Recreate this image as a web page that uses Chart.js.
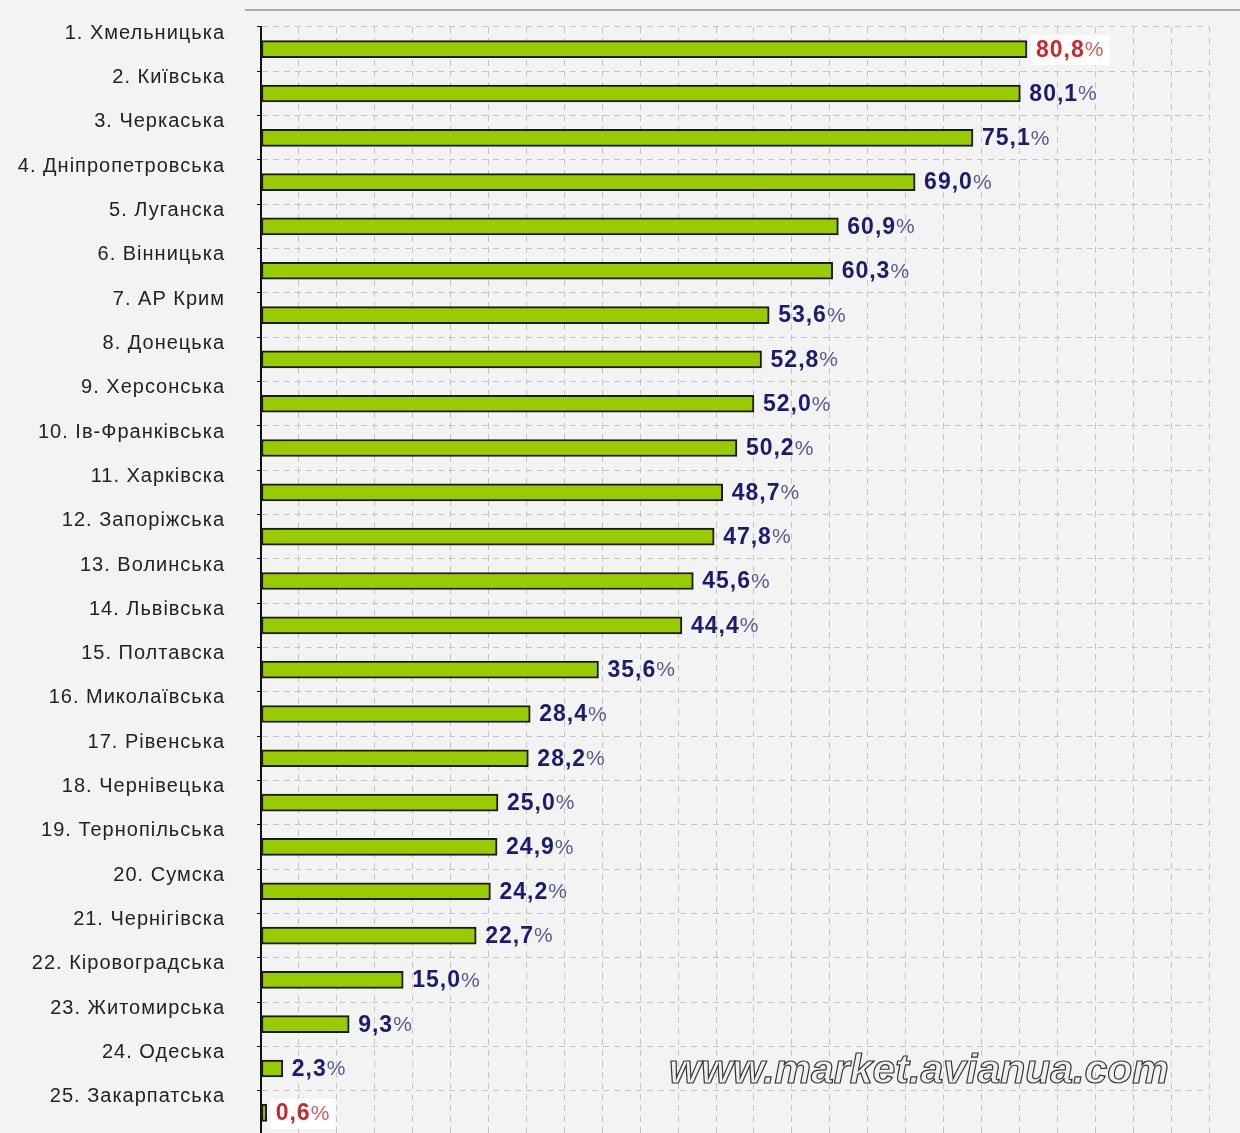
<!DOCTYPE html>
<html>
<head>
<meta charset="utf-8">
<script src="https://cdn.jsdelivr.net/npm/chart.js@4.4.1/dist/chart.umd.min.js"></script>
<style>
  html, body { margin: 0; padding: 0; background: #f3f3f3; overflow: hidden; }
  #wrap { width: 1240px; height: 1136px; }
</style>
</head>
<body>
<div id="wrap"><canvas id="myChart" width="1240" height="1136"></canvas></div>
<script>
const regions = [
  "1. Хмельницька", "2. Київська", "3. Черкаська", "4. Дніпропетровська",
  "5. Луганска", "6. Вінницька", "7. АР Крим", "8. Донецька",
  "9. Херсонська", "10. Ів-Франківська", "11. Харківска", "12. Запоріжська",
  "13. Волинська", "14. Львівська", "15. Полтавска", "16. Миколаївська",
  "17. Рівенська", "18. Чернівецька", "19. Тернопільська", "20. Сумска",
  "21. Чернігівска", "22. Кіровоградська", "23. Житомирська", "24. Одеська",
  "25. Закарпатська"
];
const shares = [
  80.8, 80.1, 75.1, 69.0, 60.9, 60.3, 53.6, 52.8, 52.0, 50.2,
  48.7, 47.8, 45.6, 44.4, 35.6, 28.4, 28.2, 25.0, 24.9, 24.2,
  22.7, 15.0, 9.3, 2.3, 0.6
];
const highlighted = [0, 24]; // first and last are shown in red
const watermark = "www.market.avianua.com";

// value labels + frame line + watermark
const decor = {
  id: "decor",
  beforeDraw(chart) {
    const ctx = chart.ctx;
    ctx.save();
    ctx.fillStyle = "#f3f3f3";
    ctx.fillRect(0, 0, chart.width, chart.height);
    ctx.strokeStyle = "#a8a8a8";
    ctx.lineWidth = 2;
    ctx.beginPath();
    ctx.moveTo(245, 10);
    ctx.lineTo(chart.width, 10);
    ctx.stroke();
    ctx.restore();
    ctx.letterSpacing = "1px"; // wide-ish tick labels like the original
  },
  afterDatasetsDraw(chart) {
    const ctx = chart.ctx;
    const meta = chart.getDatasetMeta(0);
    ctx.save();
    // watermark
    ctx.letterSpacing = "0px";
    ctx.font = "italic bold 40px 'Liberation Sans', Arial, sans-serif";
    const w = ctx.measureText(watermark).width;
    const size = 40 * 500 / w;
    ctx.font = "italic bold " + size.toFixed(1) + "px 'Liberation Sans', Arial, sans-serif";
    ctx.textBaseline = "middle";
    ctx.textAlign = "left";
    ctx.fillStyle = "#efefef";
    ctx.strokeStyle = "#333";
    ctx.lineWidth = 1.2;
    ctx.fillText(watermark, 669, 1072);
    ctx.strokeText(watermark, 669, 1072);

    meta.data.forEach((bar, i) => {
      const num = shares[i].toFixed(1).replace(".", ",");
      const red = highlighted.includes(i);
      const x = bar.x + 9;
      const y = bar.y + 1;
      ctx.letterSpacing = "1px";
      ctx.font = "bold 23px 'Liberation Sans', Arial, sans-serif";
      const nw = ctx.measureText(num).width;
      ctx.font = "21px 'Liberation Sans', Arial, sans-serif";
      const pw = ctx.measureText("%").width;
      if (red) {
        ctx.fillStyle = "#ffffff";
        ctx.fillRect(x - 5, y - 15, nw + pw + 10, 30);
      }
      ctx.textBaseline = "middle";
      ctx.font = "bold 23px 'Liberation Sans', Arial, sans-serif";
      ctx.fillStyle = red ? "#c8282a" : "#1c1c6c";
      ctx.fillText(num, x, y);
      ctx.font = "21px 'Liberation Sans', Arial, sans-serif";
      ctx.fillStyle = red ? "#d85a5a" : "#5a5a8c";
      ctx.fillText("%", x + nw, y);
    });
    ctx.restore();
  }
};

const ctx = document.getElementById("myChart").getContext("2d");
const chart = new Chart(ctx, {
  type: "bar",
  data: {
    labels: regions,
    datasets: [{
      data: shares,
      backgroundColor: "#99cc00",
      borderColor: "#1a1a1a",
      borderWidth: 2,
      borderSkipped: false,
      barThickness: 17
    }]
  },
  options: {
    indexAxis: "y",
    responsive: false,
    animation: false,
    layout: { padding: { top: 27, right: 31, bottom: 1, left: 0 } },
    plugins: {
      legend: { display: false },
      tooltip: { enabled: false }
    },
    scales: {
      x: {
        min: 0,
        max: 100,
        afterFit: s => { s.height = 0; s.paddingLeft = 0; s.paddingRight = 0; },
        ticks: { display: false, stepSize: 4 },
        grid: { color: "#c4c4c4", lineWidth: 1, drawTicks: false },
        border: { display: false, dash: [6, 5] }
      },
      y: {
        afterFit: s => { s.width = 261; s.paddingTop = 0; s.paddingBottom = 0; },
        ticks: {
          color: "#222",
          padding: 32,
          labelOffset: -16,
          font: { size: 20, family: "'Liberation Sans', Arial, sans-serif" }
        },
        grid: {
          color: "#c4c4c4",
          lineWidth: 1,
          tickLength: 4,
          tickColor: "#111",
          tickBorderDash: []
        },
        border: { display: true, color: "#111", width: 2, dash: [6, 5] }
      }
    }
  },
  plugins: [decor]
});
</script>
</body>
</html>
